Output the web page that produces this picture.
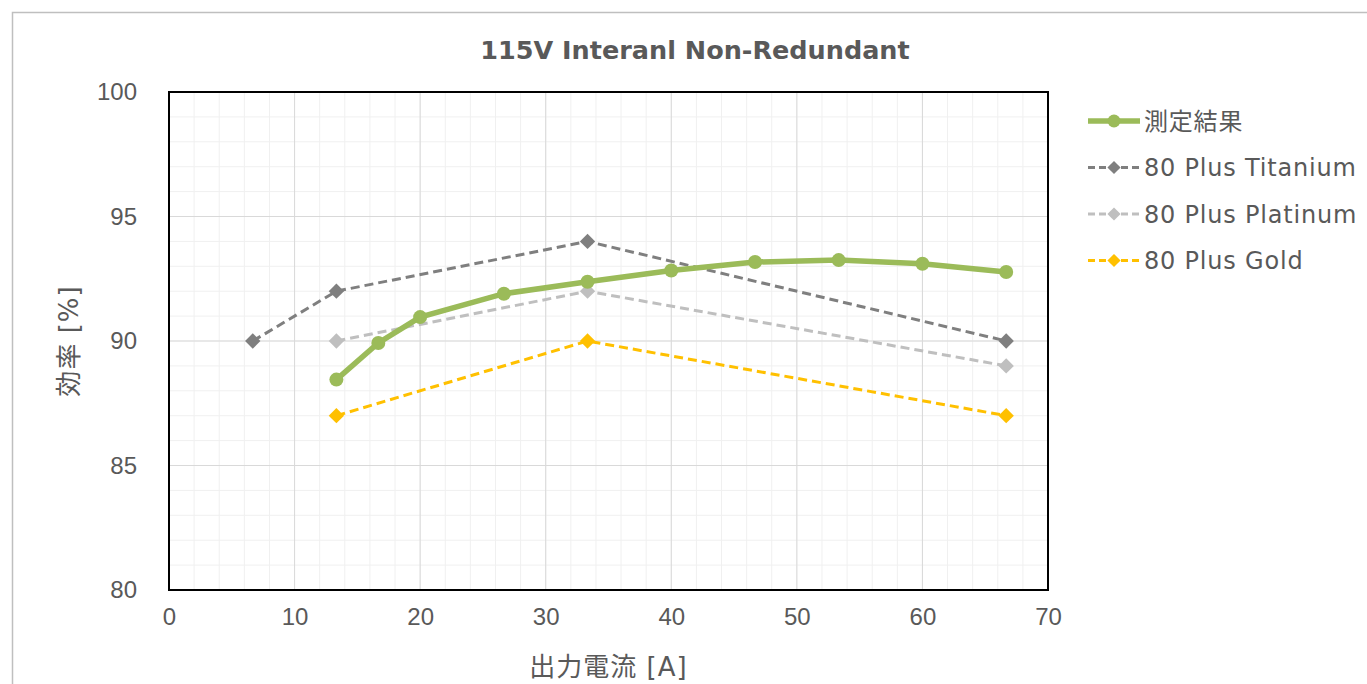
<!DOCTYPE html>
<html>
<head>
<meta charset="utf-8">
<script src="https://cdn.jsdelivr.net/npm/d3@7"></script>
<style>
  body { margin: 0; background: #fff; }
  svg { display: block; }
</style>
</head>
<body>
<div id="chart"></div>
<script>
// 出力電流 [A] for each load point
var measuredX = [13.33, 16.67, 20, 26.67, 33.33, 40, 46.67, 53.33, 60, 66.67];
var measuredY = [88.45, 89.92, 90.96, 91.9, 92.38, 92.83, 93.17, 93.25, 93.1, 92.77];

var titaniumX = [6.67, 13.33, 33.33, 66.67];
var titaniumY = [90, 92, 94, 90];

var platinumX = [13.33, 33.33, 66.67];
var platinumY = [90, 92, 89];

var goldX = [13.33, 33.33, 66.67];
var goldY = [87, 90, 87];

var xTicks = [0, 10, 20, 30, 40, 50, 60, 70];
var yTicks = [80, 85, 90, 95, 100];

var seriesNames = ["測定結果", "80 Plus Titanium", "80 Plus Platinum", "80 Plus Gold"];

var width = 1367,
  height = 684;
var margin = { top: 92, left: 169, right: 319, bottom: 94 };
var labelFont = "'DejaVu Sans', 'Noto Sans CJK JP', sans-serif";

var svg = d3
  .select("#chart")
  .append("svg")
  .attr("width", width)
  .attr("height", height);

// chart area border
svg
  .append("rect")
  .attr("x", 12.5)
  .attr("y", 12.5)
  .attr("width", 1370)
  .attr("height", 700)
  .attr("fill", "#fff")
  .attr("stroke", "#bfbfbf")
  .attr("stroke-width", 1.5);

var x = d3
  .scaleLinear()
  .domain([0, 70])
  .range([margin.left, width - margin.right]);
var y = d3
  .scaleLinear()
  .domain([80, 100])
  .range([height - margin.bottom, margin.top]);

var g = svg.append("g");

// minor grid
g.selectAll(".xminor")
  .data(d3.range(0, 71, 2))
  .enter()
  .append("line")
  .attr("x1", (d) => x(d))
  .attr("x2", (d) => x(d))
  .attr("y1", y(80))
  .attr("y2", y(100))
  .style("stroke", "#f0f0f0")
  .style("stroke-width", "1px");

g.selectAll(".yminor")
  .data(d3.range(80, 101, 1))
  .enter()
  .append("line")
  .attr("x1", x(0))
  .attr("x2", x(70))
  .attr("y1", (d) => y(d))
  .attr("y2", (d) => y(d))
  .style("stroke", "#f0f0f0")
  .style("stroke-width", "1px");

// major grid
g.selectAll(".xmajor")
  .data(xTicks)
  .enter()
  .append("line")
  .attr("x1", (d) => x(d))
  .attr("x2", (d) => x(d))
  .attr("y1", y(80))
  .attr("y2", y(100))
  .style("stroke", "#d9d9d9")
  .style("stroke-width", "1px");

g.selectAll(".ymajor")
  .data(yTicks)
  .enter()
  .append("line")
  .attr("x1", x(0))
  .attr("x2", x(70))
  .attr("y1", (d) => y(d))
  .attr("y2", (d) => y(d))
  .style("stroke", "#d9d9d9")
  .style("stroke-width", "1px");

// plot border
g.append("rect")
  .attr("x", x(0))
  .attr("y", y(100))
  .attr("width", x(70) - x(0))
  .attr("height", y(80) - y(100))
  .attr("fill", "none")
  .attr("stroke", "#000")
  .attr("stroke-width", 2);

// axes (labels only)
var xAxis = d3
  .axisBottom(x)
  .tickValues(xTicks)
  .tickSize(0)
  .tickPadding(18);
var yAxis = d3
  .axisLeft(y)
  .tickValues(yTicks)
  .tickSize(0)
  .tickPadding(32);

var gx = svg
  .append("g")
  .attr("transform", "translate(0," + y(80) + ")")
  .call(xAxis);
var gy = svg
  .append("g")
  .attr("transform", "translate(" + x(0) + ",0)")
  .call(yAxis);

[gx, gy].forEach(function (a) {
  a.select(".domain").remove();
  a.selectAll("text")
    .style("font-family", "'Liberation Sans', Arial, sans-serif")
    .style("font-size", "24px")
    .attr("fill", "#595959");
});

// title
svg
  .append("text")
  .attr("x", 695)
  .attr("y", 59)
  .attr("text-anchor", "middle")
  .style("font-family", "'DejaVu Sans', Verdana, sans-serif")
  .style("font-weight", "bold")
  .style("font-size", "25.5px")
  .attr("fill", "#595959")
  .text("115V Interanl Non-Redundant");

// axis titles
svg
  .append("text")
  .attr("x", (x(0) + x(70)) / 2)
  .attr("y", 676)
  .attr("text-anchor", "middle")
  .style("font-family", labelFont)
  .style("font-size", "26px")
  .style("letter-spacing", "1px")
  .attr("fill", "#595959")
  .text("出力電流 [A]");

svg
  .append("text")
  .attr("transform", "translate(78," + y(90) + ") rotate(-90)")
  .attr("text-anchor", "middle")
  .style("font-family", labelFont)
  .style("font-size", "26px")
  .style("letter-spacing", "1px")
  .attr("fill", "#595959")
  .text("効率 [%]");

// series
var series = [
  { name: seriesNames[1], xs: titaniumX, ys: titaniumY, color: "#7f7f7f", dash: "9,5", width: 3, marker: "diamond" },
  { name: seriesNames[2], xs: platinumX, ys: platinumY, color: "#bfbfbf", dash: "9,5", width: 3, marker: "diamond" },
  { name: seriesNames[3], xs: goldX, ys: goldY, color: "#ffc000", dash: "9,5", width: 3, marker: "diamond" },
  { name: seriesNames[0], xs: measuredX, ys: measuredY, color: "#9bbb59", dash: null, width: 5.5, marker: "circle" },
];

var line = d3
  .line()
  .x((d) => x(d[0]))
  .y((d) => y(d[1]));

var diamond = d3.symbol().type(d3.symbolDiamond2).size(150);

series.forEach(function (s) {
  var pts = s.xs.map((v, i) => [v, s.ys[i]]);
  svg
    .append("path")
    .datum(pts)
    .attr("d", line)
    .attr("fill", "none")
    .attr("stroke", s.color)
    .attr("stroke-width", s.width)
    .attr("stroke-dasharray", s.dash);

  if (s.marker == "circle") {
    svg
      .selectAll(null)
      .data(pts)
      .enter()
      .append("circle")
      .attr("cx", (d) => x(d[0]))
      .attr("cy", (d) => y(d[1]))
      .attr("r", 7)
      .attr("fill", s.color);
  } else {
    svg
      .selectAll(null)
      .data(pts)
      .enter()
      .append("path")
      .attr("d", diamond)
      .attr("transform", (d) => "translate(" + x(d[0]) + "," + y(d[1]) + ")")
      .attr("fill", s.color);
  }
});

// legend
var legendOrder = [series[3], series[0], series[1], series[2]];
var legend = svg.append("g").attr("transform", "translate(1088,121)");

legendOrder.forEach(function (s, i) {
  var row = legend.append("g").attr("transform", "translate(0," + i * 46.5 + ")");
  row
    .append("line")
    .attr("x1", 0)
    .attr("x2", 52)
    .attr("stroke", s.color)
    .attr("stroke-width", s.width)
    .attr("stroke-dasharray", s.dash ? "7,4" : null);
  if (s.marker == "circle") {
    row.append("circle").attr("cx", 26).attr("r", 6.5).attr("fill", s.color);
  } else {
    row
      .append("path")
      .attr("d", d3.symbol().type(d3.symbolDiamond2).size(110))
      .attr("transform", "translate(26,0)")
      .attr("fill", s.color);
  }
  row
    .append("text")
    .attr("x", 56)
    .attr("y", 0)
    .attr("dy", "0.36em")
    .style("font-family", labelFont)
    .style("font-size", "24px")
    .style("letter-spacing", "0.8px")
    .attr("fill", "#595959")
    .text(s.name);
});
</script>
</body>
</html>
